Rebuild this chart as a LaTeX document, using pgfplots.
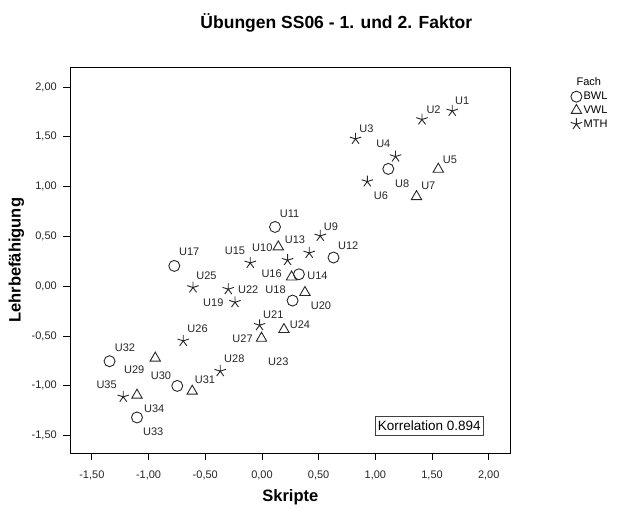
\documentclass[border=0pt]{standalone}
\usepackage{fontspec}
\setmainfont{Liberation Sans}
\usepackage{pgfplots}
\usepackage{pgfplotstable}
\pgfplotsset{compat=1.18}

\pgfplotstableread{
x y
1.114 1.178
0.631 0.288
0.115 0.595
0.326 0.120
0.270 -0.144
-0.773 0.204
-1.344 -0.753
-0.747 -1.001
-1.102 -1.318
}\bwl

\pgfplotstableread{
x y
1.555 1.175
1.363 0.900
0.144 0.395
0.261 0.093
0.379 -0.063
0.194 -0.435
-0.004 -0.522
-0.941 -0.722
-0.615 -1.054
-1.102 -1.094
}\vwl

\pgfplotstableread{
x y
1.678 1.760
1.411 1.674
0.825 1.479
1.178 1.302
0.929 1.051
0.514 0.505
0.417 0.334
0.226 0.261
-0.103 0.234
-0.297 -0.030
-0.238 -0.161
-0.608 -0.013
-0.021 -0.392
-0.694 -0.549
-0.368 -0.853
-1.223 -1.111
}\mth

\pgfplotstableread{
x y label
1.766 1.860 U1
1.513 1.774 U2
0.922 1.583 U3
1.070 1.426 U4
1.658 1.272 U5
1.049 0.904 U6
1.467 1.004 U7
1.237 1.031 U8
0.608 0.602 U9
0.003 0.385 U10
0.243 0.730 U11
0.761 0.409 U12
0.291 0.462 U13
0.490 0.100 U14
-0.238 0.354 U15
0.085 0.128 U16
-0.641 0.344 U17
0.120 -0.040 U18
-0.429 -0.164 U19
0.520 -0.198 U20
0.100 -0.291 U21
-0.121 -0.040 U22
0.144 -0.760 U23
0.335 -0.382 U24
-0.489 0.110 U25
-0.568 -0.425 U26
-0.171 -0.525 U27
-0.244 -0.730 U28
-1.126 -0.843 U29
-0.891 -0.894 U30
-0.503 -0.937 U31
-1.208 -0.619 U32
-0.959 -1.463 U33
-0.950 -1.228 U34
-1.370 -0.994 U35
}\labels

\begin{document}
\begin{tikzpicture}[x=1pt,y=1pt]
\path (0,0) rectangle (622,507);
\begin{axis}[
  overlay,
  at={(62,54)}, anchor=south west,
  scale only axis, width=440pt, height=386pt,
  xmin=-1.69, xmax=2.19, ymin=-1.677, ymax=2.199,
  axis line style={black, line width=0.9pt},
  tick style={black, line width=0.8pt},
  tick align=outside, major tick length=7pt,
  xtick pos=lower, ytick pos=left,
  xtick={-1.5,-1,-0.5,0,0.5,1,1.5,2},
  xticklabels={{-1,50},{-1,00},{-0,50},{0,00},{0,50},{1,00},{1,50},{2,00}},
  ytick={-1.5,-1,-0.5,0,0.5,1,1.5,2},
  yticklabels={{-1,50},{-1,00},{-0,50},{0,00},{0,50},{1,00},{1,50},{2,00}},
  ticklabel style={font=\fontsize{11}{13}\selectfont, color=black!85},
  xticklabel style={yshift=-7pt},
  yticklabel style={xshift=-3pt},
  xlabel={Skripte},
  ylabel={Lehrbefähigung},
  xlabel style={font=\bfseries\fontsize{16.5}{19}\selectfont, at={(axis description cs:0.5,-0.114)}, anchor=center},
  ylabel style={font=\bfseries\fontsize{16.5}{19}\selectfont, at={(axis description cs:-0.1227,0.5)}, anchor=center},
  title={Übungen SS06 - 1. und 2. Faktor},
  title style={font=\bfseries\fontsize{17.5}{20}\selectfont, at={(axis description cs:0.6045,1.100)}, anchor=center},
  legend style={at={(axis description cs:1.13,0.982)}, anchor=north west, draw=none, fill=none,
    font=\fontsize{11}{13}\selectfont, row sep=1.5pt, nodes={inner ysep=1.6pt, inner xsep=1.5pt}},
  legend cell align=left,
  legend image code/.code={\draw[#1] plot coordinates {(0pt,0pt)};},
  clip=false,
]
\addlegendimage{empty legend}
\addlegendentry{\hspace*{-7pt}Fach}
\addplot[only marks, mark=o, mark size=5.5pt, draw=black!85, line width=0.9pt] table {\bwl};
\addlegendentry{BWL}
\addplot[only marks, mark=triangle, mark size=6pt, draw=black!85, line width=0.9pt] table {\vwl};
\addlegendentry{VWL}
\addplot[only marks, mark=star, mark size=6pt, draw=black!85, line width=0.9pt] table {\mth};
\addlegendentry{MTH}
\addplot[draw=none, mark=none, forget plot, nodes near coords, point meta=explicit symbolic,
  every node near coord/.append style={anchor=center, font=\fontsize{11}{13}\selectfont, inner sep=0pt, color=black!85}]
  table[meta=label] {\labels};
\node[draw=black!75, line width=1pt, fill=white, font=\fontsize{13.5}{15}\selectfont, inner xsep=2.5pt, minimum height=19pt]
  at (axis cs:1.475,-1.401) {Korrelation 0.894};
\end{axis}
\end{tikzpicture}
\end{document}
